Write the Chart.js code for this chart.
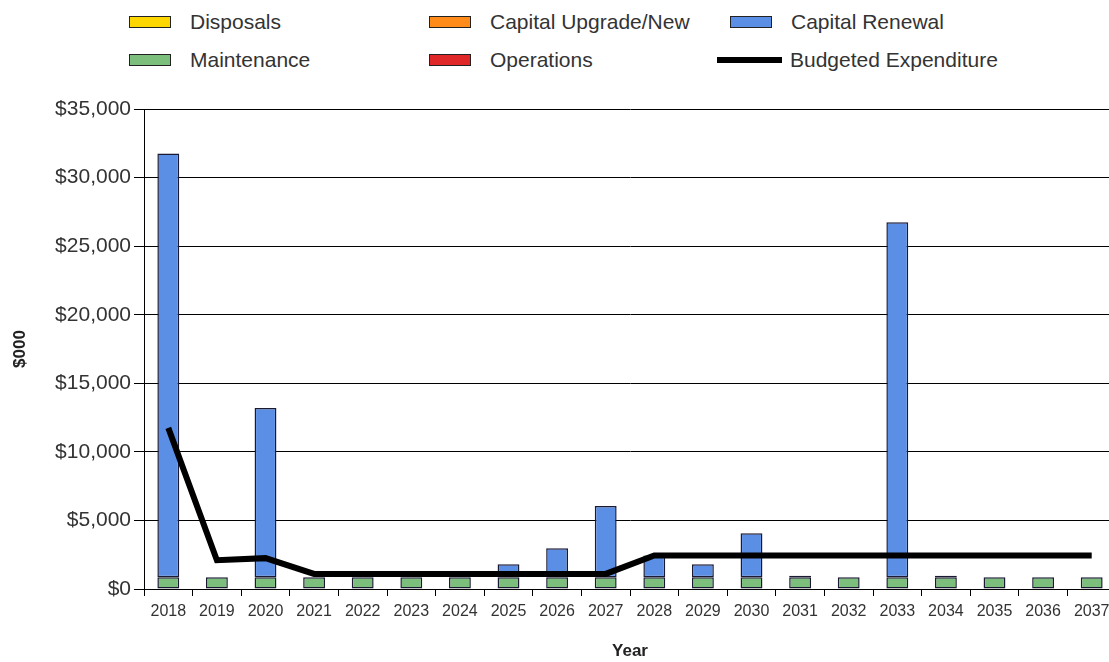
<!DOCTYPE html>
<html lang="en">
<head>
  <meta charset="UTF-8">
  <title>Expenditure by Year</title>
  <script src="https://cdn.jsdelivr.net/npm/chart.js"></script>
  <style>
    html, body {
      margin: 0;
      padding: 0;
      background: #fff;
      overflow: hidden;
    }
    body {
      width: 1109px;
      height: 662px;
      position: relative;
      font-family: 'Liberation Sans', Arial, sans-serif;
      color: #333;
    }
    .chart-box {
      position: absolute;
      left: 0;
      top: 0;
      width: 1120px;
      height: 662px;
    }
    .swatch {
      position: absolute;
      width: 40px;
      height: 10px;
      border: 1px solid #222;
    }
    .swatch.line {
      height: 6px;
      width: 65px;
      border: none;
      background: #000;
    }
    .label {
      position: absolute;
      font-size: 21px;
      line-height: 24px;
      white-space: nowrap;
    }
  </style>
</head>
<body>
  <div id="legend"></div>
  <div class="chart-box">
    <canvas id="chart"></canvas>
  </div>

  <script>
    const years = ['2018', '2019', '2020', '2021', '2022', '2023', '2024', '2025', '2026', '2027',
                   '2028', '2029', '2030', '2031', '2032', '2033', '2034', '2035', '2036', '2037'];

    const maintenance    = [850, 850, 850, 850, 850, 850, 850, 850, 850, 850,
                            850, 850, 850, 850, 850, 850, 850, 850, 850, 850];
    const operations     = [0, 0, 0, 0, 0, 0, 0, 0, 0, 0, 0, 0, 0, 0, 0, 0, 0, 0, 0, 0];
    const capitalRenewal = [30900, 0, 12350, 0, 0, 0, 0, 950, 2120, 5200,
                            1600, 950, 3210, 120, 0, 25900, 120, 0, 0, 0];
    const capitalUpgrade = [0, 0, 0, 0, 0, 0, 0, 0, 0, 0, 0, 0, 0, 0, 0, 0, 0, 0, 0, 0];
    const disposals      = [0, 0, 0, 0, 0, 0, 0, 0, 0, 0, 0, 0, 0, 0, 0, 0, 0, 0, 0, 0];
    const budgeted       = [11750, 2100, 2250, 1100, 1100, 1100, 1100, 1100, 1100, 1100,
                            2450, 2450, 2450, 2450, 2450, 2450, 2450, 2450, 2450, 2450];

    const yTicks = [0, 5000, 10000, 15000, 20000, 25000, 30000, 35000];

    const colors = {
      disposals: '#FFD700',
      upgrade: '#FF8C1A',
      renewal: '#5B8FE6',
      maintenance: '#7CBF7C',
      operations: '#E02828'
    };

    // legend laid out in a fixed 3 column grid like the original
    const legendItems = [
      { text: 'Disposals',            color: colors.disposals,   x: 129, y: 16 },
      { text: 'Capital Upgrade/New',  color: colors.upgrade,     x: 429, y: 16 },
      { text: 'Capital Renewal',      color: colors.renewal,     x: 730, y: 16 },
      { text: 'Maintenance',          color: colors.maintenance, x: 129, y: 54 },
      { text: 'Operations',           color: colors.operations,  x: 429, y: 54 },
      { text: 'Budgeted Expenditure', color: null,               x: 717, y: 54 }
    ];

    const legend = document.getElementById('legend');
    legendItems.forEach(item => {
      const sw = document.createElement('div');
      const lb = document.createElement('div');
      lb.className = 'label';
      lb.textContent = item.text;
      lb.style.top = (item.y - 6) + 'px';
      if (item.color) {
        sw.className = 'swatch';
        sw.style.background = item.color;
        sw.style.left = item.x + 'px';
        sw.style.top = item.y + 'px';
        lb.style.left = (item.x + 61) + 'px';
      } else {
        sw.className = 'swatch line';
        sw.style.left = item.x + 'px';
        sw.style.top = (item.y + 3) + 'px';
        lb.style.left = (item.x + 73) + 'px';
      }
      legend.appendChild(sw);
      legend.appendChild(lb);
    });

    const barBorder = '#1a1a33';

    new Chart(document.getElementById('chart'), {
      type: 'bar',
      data: {
        labels: years,
        datasets: [
          {
            type: 'line',
            label: 'Budgeted Expenditure',
            data: budgeted,
            borderColor: '#000',
            borderWidth: 6,
            pointRadius: 0,
            tension: 0,
            fill: false,
            order: 0
          },
          { label: 'Maintenance', data: maintenance, backgroundColor: colors.maintenance, order: 1 },
          { label: 'Operations', data: operations, backgroundColor: colors.operations, order: 1 },
          { label: 'Capital Renewal', data: capitalRenewal, backgroundColor: colors.renewal, order: 1 },
          { label: 'Capital Upgrade/New', data: capitalUpgrade, backgroundColor: colors.upgrade, order: 1 },
          { label: 'Disposals', data: disposals, backgroundColor: colors.disposals, order: 1 }
        ].map(ds => ds.type === 'line' ? ds : Object.assign(ds, {
          borderColor: barBorder,
          borderWidth: 1.5,
          borderSkipped: false,
          barPercentage: 0.9,
          categoryPercentage: 0.5,
          stack: 'spend'
        }))
      },
      options: {
        responsive: true,
        maintainAspectRatio: false,
        animation: false,
        layout: {
          padding: { left: 0, top: 109, right: 4, bottom: 0 }
        },
        plugins: {
          legend: { display: false },
          tooltip: { enabled: false }
        },
        scales: {
          x: {
            stacked: true,
            grid: {
              display: true,
              drawOnChartArea: false,
              drawTicks: true,
              tickLength: 7,
              color: '#000',
              offset: true
            },
            border: { color: '#000' },
            ticks: {
              color: '#333',
              font: { family: "'Liberation Sans', Arial, sans-serif", size: 16 },
              padding: 6,
              maxRotation: 0,
              autoSkip: false
            },
            title: {
              display: true,
              text: 'Year',
              color: '#222',
              font: { family: "'Liberation Sans', Arial, sans-serif", size: 17, weight: 'bold' },
              padding: { top: 0, bottom: 0 }
            },
            afterFit(scale) { scale.height = 73; }
          },
          y: {
            stacked: true,
            min: 0,
            max: 35000,
            afterBuildTicks(scale) { scale.ticks = yTicks.map(v => ({ value: v })); },
            grid: {
              color: '#000',
              lineWidth: 1,
              tickLength: 10
            },
            border: { color: '#000' },
            ticks: {
              color: '#333',
              font: { family: "'Liberation Sans', Arial, sans-serif", size: 21 },
              padding: 3,
              callback: v => '$' + Number(v).toLocaleString('en-US')
            },
            title: {
              display: true,
              text: '$000',
              color: '#222',
              font: { family: "'Liberation Sans', Arial, sans-serif", size: 17, weight: 'bold' },
              padding: { top: 10, bottom: 0 }
            },
            afterFit(scale) { scale.width = 144; }
          }
        }
      }
    });
  </script>
</body>
</html>
